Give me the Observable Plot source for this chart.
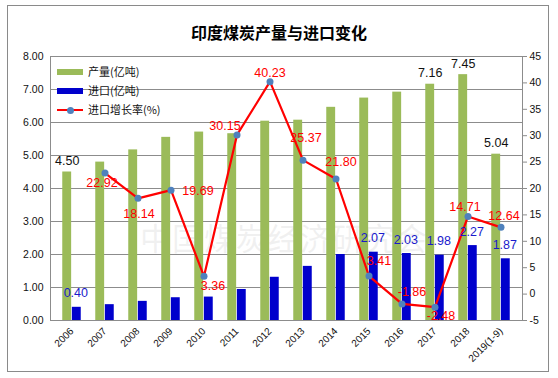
<!DOCTYPE html>
<html>
<head>
<meta charset="utf-8">
<script src="https://cdn.jsdelivr.net/npm/d3@7"></script>
<script src="https://cdn.jsdelivr.net/npm/@observablehq/plot@0.6"></script>
<style>
  body { margin: 0; background: #fff; }
  #wrap { position: relative; width: 558px; height: 378px; font-family: "Liberation Sans", "Noto Sans CJK SC", sans-serif; }
  #border { position: absolute; left: 7px; top: 5px; width: 542px; height: 367px; border: 1px solid #8a8a8a; box-sizing: border-box; }
  #title { position: absolute; left: 0; width: 558px; top: 20px; text-align: center; font-family: "Noto Sans CJK SC", sans-serif; font-weight: bold; font-size: 16px; color: #000; }
  #watermark { position: absolute; left: 140px; top: 214px; font-family: "Noto Sans CJK SC", sans-serif; font-size: 31px; color: rgba(190,190,190,0.22); letter-spacing: 1px; white-space: nowrap; }
  #chart { position: absolute; left: 0; top: 0; }
  .legend { position: absolute; left: 57px; font-family: "Noto Sans CJK SC", sans-serif; font-size: 11px; color: #111; }
  .legend .row { position: absolute; left: 0; height: 14px; white-space: nowrap; }
  .legend .sw { position: absolute; left: 0; }
  .legend .lab { position: absolute; left: 31px; top: -1px; line-height: 14px; }
</style>
</head>
<body>
<div id="wrap">
  <div id="border"></div>
  <div id="title">印度煤炭产量与进口变化</div>
  <div id="watermark">中国煤炭经济研究会</div>
  <div id="chart"></div>
  <div class="legend" id="legend"></div>
</div>
<script>
// ---- data ----
const years = ["2006","2007","2008","2009","2010","2011","2012","2013","2014","2015","2016","2017","2018","2019(1-9)"];
const production = [4.50, 4.80, 5.17, 5.55, 5.71, 5.66, 6.04, 6.07, 6.46, 6.74, 6.92, 7.16, 7.45, 5.04];
const imports = [0.40, 0.48, 0.58, 0.69, 0.71, 0.94, 1.31, 1.64, 2.00, 2.07, 2.03, 1.98, 2.27, 1.87];
const growth = [null, 22.92, 18.14, 19.69, 3.36, 30.15, 40.23, 25.37, 21.80, 3.41, -1.86, -2.48, 14.71, 12.64];
const prodLabelYears = ["2006", "2017", "2018", "2019(1-9)"];
const importLabelYears = ["2006", "2015", "2016", "2017", "2018", "2019(1-9)"];
const leftTicks = [0, 1, 2, 3, 4, 5, 6, 7, 8];
const rightTicks = [-5, 0, 5, 10, 15, 20, 25, 30, 35, 40, 45];
const seriesNames = ["产量(亿吨)", "进口(亿吨)", "进口增长率(%)"];

// ---- layout / style ----
const W = 558, H = 378;
const mL = 50, mR = 36, mT = 56, mB = 58;
const bw = (W - mL - mR) / years.length;
const barW = 9.6;
const green = "#9BBB59", blue = "#0000CC", red = "#FF0000", dotBlue = "#4F81BD";
const leftMax = 8, rMin = -5, rMax = 45;
const toLeft = g => (g - rMin) / (rMax - rMin) * leftMax;
const fromLeft = v => v / leftMax * (rMax - rMin) + rMin;

// growth label placement (dx, dy) relative to the point
const growthLabelOffset = {
  "2007": [-3, 10], "2008": [1, 16], "2009": [27, 1], "2010": [9, 10],
  "2011": [-12, -9], "2012": [0, -9], "2013": [3, -22], "2014": [5, -17],
  "2015": [10, -15], "2016": [10, -12], "2017": [6, 9], "2018": [-3, -9],
  "2019(1-9)": [3, -11]
};

const data = years.map((y, i) => ({year: y, prod: production[i], imp: imports[i], g: growth[i]}));
const gData = data.filter(d => d.g != null);

const numFont = "Liberation Sans, Arial, sans-serif";

const growthLabels = gData.map(d => Plot.text([d], {
  x: "year", y: dd => toLeft(dd.g), text: dd => dd.g.toFixed(2),
  dx: growthLabelOffset[d.year][0], dy: growthLabelOffset[d.year][1],
  fill: red, fontSize: 12.5, fontFamily: numFont
}));

const plot = Plot.plot({
  width: W, height: H,
  marginLeft: mL, marginRight: mR, marginTop: mT, marginBottom: mB,
  style: {background: "transparent", fontFamily: numFont, fontSize: "10.5px", color: "#111"},
  x: {type: "band", domain: years, padding: 0, label: null},
  y: {domain: [0, leftMax], label: null},
  marks: [
    Plot.ruleY(leftTicks, {stroke: "#8c8c8c", strokeWidth: 1}),
    Plot.barY(data, {x: "year", y: "prod", fill: green, insetLeft: bw / 2 - barW, insetRight: bw / 2}),
    Plot.barY(data, {x: "year", y: "imp", fill: blue, insetLeft: bw / 2, insetRight: bw / 2 - barW}),
    Plot.frame({stroke: "#8c8c8c"}),
    Plot.axisY(leftTicks, {anchor: "left", tickSize: 0, tickPadding: 7, tickFormat: d => d.toFixed(2), label: null, fontSize: 10.5}),
    Plot.axisY(rightTicks.map(toLeft), {anchor: "right", tickSize: 4, tickPadding: 3, stroke: "#8c8c8c", tickFormat: v => String(Math.round(fromLeft(v))), label: null, fontSize: 10.5}),
    Plot.axisX({tickSize: 0, tickRotate: -45, tickPadding: 9, label: null, fontSize: 10}),
    Plot.line(gData, {x: "year", y: d => toLeft(d.g), stroke: red, strokeWidth: 2.2}),
    Plot.dot(gData, {x: "year", y: d => toLeft(d.g), r: 3.5, fill: dotBlue}),
    Plot.text(data.filter(d => prodLabelYears.includes(d.year)), {
      x: "year", y: "prod", text: d => d.prod.toFixed(2), dx: -barW / 2, dy: -11,
      fill: "#111", fontSize: 12.5, fontFamily: numFont
    }),
    Plot.text(data.filter(d => importLabelYears.includes(d.year)), {
      x: "year", y: "imp", text: d => d.imp.toFixed(2), dx: barW / 2 - 1, dy: -14,
      fill: "#1a1acc", fontSize: 12.5, fontFamily: numFont
    }),
    ...growthLabels
  ]
});
document.getElementById("chart").appendChild(plot);

// legend
const legend = document.getElementById("legend");
const rowsTop = [65, 84, 103];
seriesNames.forEach((name, i) => {
  const row = document.createElement("div");
  row.className = "row";
  row.style.top = rowsTop[i] + "px";
  let sw;
  if (i < 2) {
    sw = `<div class="sw" style="top:4px;width:26px;height:6px;background:${i === 0 ? green : blue}"></div>`;
  } else {
    sw = `<div class="sw" style="top:6px;width:26px;height:2px;background:${red}"></div>` +
         `<div class="sw" style="left:10px;top:3.5px;width:7px;height:7px;border-radius:50%;background:${dotBlue}"></div>`;
  }
  row.innerHTML = sw + `<div class="lab">${name}</div>`;
  legend.appendChild(row);
});
</script>
</body>
</html>
